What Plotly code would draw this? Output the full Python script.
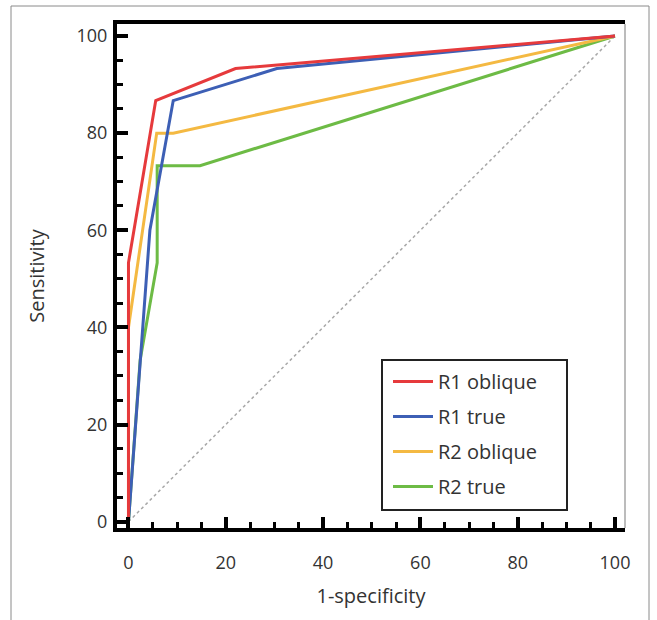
import plotly.graph_objects as go

# Data
r1_oblique_x = [0, 0, 5.6, 22.0, 100]
r1_oblique_y = [0, 53.3, 86.7, 93.3, 100]

r1_true_x = [0, 2.4, 4.4, 9.2, 30.5, 100]
r1_true_y = [0, 33.3, 60.0, 86.7, 93.3, 100]

r2_oblique_x = [0, 0, 5.8, 9.2, 100]
r2_oblique_y = [0, 40.0, 80.0, 80.0, 100]

r2_true_x = [0, 2.4, 5.9, 5.9, 14.7, 100]
r2_true_y = [0, 33.3, 53.3, 73.3, 73.3, 100]

ref_x = [0, 100]
ref_y = [0, 100]

x_ticks = [0, 20, 40, 60, 80, 100]
y_ticks = [0, 20, 40, 60, 80, 100]

OFF = 0                      # page body margin removed by post_script
W, H = 657, 620
L, T = 117 - OFF, 24 - OFF
PW, PH = 508, 504
R = W - L - PW
B = H - T - PH


def px_x(sx):
    return (sx - OFF - L) / PW


def px_y(sy):
    return (H - B - (sy - OFF)) / PH


FONT = "Open Sans"
TXT = "#333333"

fig = go.Figure()

fig.add_trace(go.Scatter(x=ref_x, y=ref_y, mode="lines", showlegend=False,
                         line=dict(color="#a8a8a8", width=1.5, dash="3px,3px"),
                         hoverinfo="skip"))

series = [
    ("R2 true", r2_true_x, r2_true_y, "#6dbb45"),
    ("R2 oblique", r2_oblique_x, r2_oblique_y, "#f4b942"),
    ("R1 true", r1_true_x, r1_true_y, "#3d5fb5"),
    ("R1 oblique", r1_oblique_x, r1_oblique_y, "#e63a3c"),
]
legend_rank = {"R1 oblique": 1, "R1 true": 2, "R2 oblique": 3, "R2 true": 4}
for name, xs, ys, col in series:
    fig.add_trace(go.Scatter(x=xs, y=ys, mode="lines", name=name,
                             legendgroup=name, legendrank=legend_rank[name],
                             line=dict(color=col, width=3)))

fig.update_layout(
    width=W, height=H,
    margin=dict(l=L, r=R, t=T, b=B, autoexpand=False),
    paper_bgcolor="white", plot_bgcolor="white",
    font=dict(family=FONT, size=18, color=TXT),
    legend=dict(x=px_x(388), y=px_y(362), xanchor="left", yanchor="top",
                bgcolor="rgba(0,0,0,0)", borderwidth=0, itemwidth=40,
                font=dict(family=FONT, size=20, color=TXT),
                traceorder="grouped", tracegroupgap=6),
    shapes=[
        # outer frame
        dict(type="rect", xref="paper", yref="paper",
             x0=px_x(11), x1=px_x(649), y0=px_y(640), y1=px_y(6),
             line=dict(color="#8a8a8a", width=1), layer="below"),
        # legend box
        dict(type="rect", xref="paper", yref="paper",
             x0=px_x(382), x1=px_x(567), y0=px_y(510), y1=px_y(360),
             fillcolor="white", line=dict(color="#222222", width=2), layer="below"),
        # right plot edge (thin gray)
        dict(type="line", xref="paper", yref="paper",
             x0=1, x1=1, y0=0, y1=1,
             line=dict(color="#8f8f8f", width=1.2)),
    ],
)

fig.update_xaxes(
    range=[-2.36, 102.06], tickvals=x_ticks, ticktext=[str(v) for v in x_ticks],
    showgrid=False, zeroline=False, automargin=False,
    showline=True, linecolor="black", linewidth=4, mirror=True,
    ticks="inside", ticklen=11, tickwidth=4, tickcolor="black",
    minor=dict(ticks="inside", ticklen=6, tickwidth=2.5, tickcolor="black", dtick=5, tick0=0),
    ticklabelstandoff=15,
    title=dict(text="1-specificity", font=dict(size=20, color=TXT), standoff=17),
    tickfont=dict(size=18, color=TXT),
)
fig.update_yaxes(
    range=[-1.3, 102.47], tickvals=y_ticks, ticktext=[str(v) for v in y_ticks],
    showgrid=False, zeroline=False, automargin=False,
    showline=True, linecolor="black", linewidth=4, mirror=False,
    ticks="inside", ticklen=11, tickwidth=4, tickcolor="black",
    minor=dict(ticks="inside", ticklen=6, tickwidth=2.5, tickcolor="black", dtick=5, tick0=0),
    ticklabelstandoff=2,
    title=dict(text="Sensitivity", font=dict(size=20, color=TXT), standoff=28),
    tickfont=dict(size=18, color=TXT),
)

fig.write_html("out.html", config={"displayModeBar": False},
               post_script="document.body.style.margin='0px';")
